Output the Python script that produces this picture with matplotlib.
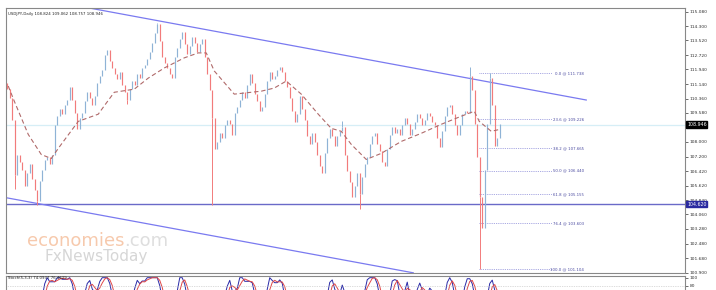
import matplotlib
matplotlib.use("Agg")
import matplotlib.pyplot as plt
import numpy as np
import pandas as pd

# daily closes (one value per candle, left to right)
closes = [
    110.9, 110.4, 109.2, 106.2, 107.3, 106.9, 106.5, 105.6, 106.3, 106.8,
    106.0, 105.4, 104.8, 105.9, 106.5, 107.0, 107.2, 106.8, 107.3, 108.9,
    109.4, 109.8, 109.5, 110.0, 110.3, 111.0, 110.3, 109.6, 108.7, 109.3,
    109.6, 110.2, 110.7, 110.4, 110.0, 110.5, 111.2, 111.6, 111.9, 112.7,
    113.0, 112.4, 112.0, 111.7, 111.4, 111.8, 111.1, 110.7, 110.3, 110.9,
    111.3, 111.1, 111.7, 111.5, 112.0, 112.2, 112.5, 112.9, 113.4, 113.9,
    114.4, 113.5, 112.6, 112.3, 112.0, 111.7, 111.5, 112.6, 113.1, 113.6,
    114.0, 113.3, 112.8, 113.2, 113.7, 113.4, 112.9, 113.3, 113.6, 112.6,
    111.7, 110.8, 109.3, 107.6, 108.0, 108.5, 108.2, 108.9, 109.2, 109.0,
    108.4, 109.6, 109.9, 110.3, 110.7, 110.4, 111.1, 111.7, 111.2, 110.6,
    110.2, 109.7, 109.9, 110.6, 111.3, 111.8, 111.4, 111.6, 111.9, 112.1,
    111.8, 111.3, 111.0, 110.4, 109.7, 109.1, 109.5, 110.5, 109.8, 109.2,
    108.3, 107.9, 108.5, 108.0, 107.3, 106.7, 106.3, 107.4, 108.2, 108.7,
    108.3, 107.8, 108.3, 108.6, 108.8, 107.3, 106.4, 105.8, 105.0, 105.6,
    106.3, 105.2, 106.1, 106.8, 107.2, 107.9, 108.3, 108.5, 107.9, 107.5,
    106.9, 106.7, 107.6, 108.4, 108.8, 108.5, 108.7, 108.4, 108.9, 109.3,
    109.0, 108.4, 108.7, 109.1, 109.5, 109.3, 108.9, 109.2, 109.6, 109.4,
    109.1, 108.9, 108.2, 107.7, 108.6, 109.4, 109.9, 110.0, 109.5, 108.9,
    108.4, 108.9, 109.5, 109.7, 109.6, 111.6, 110.8, 109.0, 107.2, 105.0,
    103.3, 106.5, 109.0, 111.5, 110.0, 107.8, 108.2, 108.95,
]
first_open = 111.2

# long wicks visible on the chart
wick_lows = {3: 105.46, 12: 104.59, 48: 110.05, 82: 104.59, 141: 104.37, 189: 101.10}
wick_highs = {60: 114.48, 134: 109.12, 185: 112.10, 193: 111.74}

# dashed moving average
ma_idx = [0.4, 2.8, 8.4, 13.6, 17.6, 20.4, 28.4, 36.4, 39.0, 42.8, 50.8, 56.4,
          62.8, 70.8, 76.4, 79.6, 82.8, 90.8, 101.6, 106.8, 111.6, 117.6,
          124.4, 129.6, 133.6, 137.6, 143.6, 149.6, 157.6, 165.6, 173.6,
          181.6, 186.8, 188.8, 193.6, 197.2]
ma_val = [111.04, 110.22, 108.41, 107.32, 107.10, 107.65, 109.12, 109.51,
          110.0, 110.70, 110.87, 111.47, 112.02, 112.57, 112.84, 112.84,
          111.86, 110.60, 110.76, 110.93, 111.31, 110.60, 109.51, 108.74,
          108.58, 107.87, 107.05, 107.38, 108.03, 108.47, 108.96, 109.40,
          109.67, 109.12, 108.58, 108.69]

fib_pct = ["0.0", "23.6", "38.2", "50.0", "61.8", "76.4", "100.0"]
fib_val = [111.738, 109.226, 107.665, 106.440, 105.155, 103.603, 101.104]

upper_trend = ([32.8, 231.6], [115.28, 110.28])
lower_trend = ([0.0, 162.4], [104.96, 100.89])
support_level = 104.62
last_price = 108.946

price_ticks = [115.080, 114.300, 113.520, 112.720, 111.940, 111.140, 110.360,
               109.580, 108.780, 108.000, 107.200, 106.420, 105.620, 104.840,
               104.060, 103.280, 102.480, 101.680, 100.900]

W, H = 716, 290
fig = plt.figure(figsize=(W / 100, H / 100), dpi=100)
fig.patch.set_facecolor("white")

ax = fig.add_axes([6 / W, 1 - 273 / H, 679 / W, 265 / H])
sx = fig.add_axes([6 / W, 1 - 300 / H, 679 / W, 24.5 / H])

spine_col = "#888888"
for a in (ax, sx):
    for s in a.spines.values():
        s.set_color(spine_col)
        s.set_linewidth(0.8)

# candles: body from previous close to close
idx = np.arange(len(closes))
opens = [first_open] + closes[:-1]
cols = ["#8fb3d6" if c >= o else "#f27b7b" for o, c in zip(opens, closes)]
lo = np.minimum(opens, closes)
hi = np.maximum(opens, closes)
ax.vlines(idx, lo, hi, colors=cols, lw=0.85, zorder=3)
for i, v in wick_lows.items():
    ax.vlines(i, v, lo[i], colors=cols[i], lw=0.7, zorder=3)
for i, v in wick_highs.items():
    ax.vlines(i, hi[i], v, colors=cols[i], lw=0.7, zorder=3)

ax.plot(ma_idx, ma_val, color="#b06a6a", lw=0.8, ls=(0, (4, 2.5)), zorder=4)

# levels and trend lines
ax.axhline(last_price, color="#d6eef6", lw=0.9, zorder=1)
ax.axhline(support_level, color="#6a6ac8", lw=1.0, zorder=2)
ax.plot(*upper_trend, color="#7a7af0", lw=0.9, zorder=2)
ax.plot(*lower_trend, color="#7a7af0", lw=0.9, zorder=2)

for p, v in zip(fib_pct, fib_val):
    ax.plot([188.8, 218.0], [v, v], color="#8a8ad8", lw=0.6, ls=(0, (1, 1.2)), zorder=2)
    ax.text(230.8, v, f"{p} @ {v:.3f}", ha="right", va="center",
            fontsize=2.8, color="#4a4aa0", zorder=5)

ax.set_xlim(-0.5, 271.1)
ax.set_ylim(100.88, 115.28)
ax.set_xticks([])
ax.yaxis.tick_right()
ax.set_yticks(price_ticks)
ax.set_yticklabels([f"{t:.3f}" for t in price_ticks])
ax.tick_params(axis="y", labelsize=3.2, length=2, width=0.5, pad=1.5,
               colors="#333333")

ax.text(0.003, 0.985, "USDJPY,Daily 108.824 109.062 108.757 108.946",
        transform=ax.transAxes, ha="left", va="top", fontsize=2.8, color="#222222")

# price boxes on the axis
ax.annotate(f"{last_price:.3f}", xy=(1.0, last_price), xycoords=("axes fraction", "data"),
            xytext=(1.5, 0), textcoords="offset points", ha="left", va="center",
            fontsize=3.4, color="white", annotation_clip=False,
            bbox=dict(boxstyle="square,pad=0.15", fc="black", ec="black"))
ax.annotate(f"{support_level:.3f}", xy=(1.0, support_level), xycoords=("axes fraction", "data"),
            xytext=(1.5, 0), textcoords="offset points", ha="left", va="center",
            fontsize=3.4, color="white", annotation_clip=False,
            bbox=dict(boxstyle="square,pad=0.15", fc="#2a2aa0", ec="#2a2aa0"))

# watermark
t1 = fig.text(27 / W, 1 - 246 / H, "economies", fontsize=13, color="#f6c4a4",
              ha="left", va="baseline", alpha=0.9)
ax.annotate(".com", xy=(1, 0), xycoords=t1, ha="left", va="bottom",
            fontsize=13, color="#dedede")
fig.text(45 / W, 1 - 261 / H, "FxNewsToday", fontsize=11, color="#d6d6d6",
         ha="left", va="baseline")

# stochastic panel
c = np.array(closes)
k_raw = []
for i in range(len(c)):
    w = c[max(0, i - 4):i + 1]
    rng = w.max() - w.min()
    k_raw.append(100 * (c[i] - w.min()) / rng if rng > 0 else 50.0)
k = pd.Series(k_raw).rolling(3, min_periods=1).mean()
d = k.rolling(3, min_periods=1).mean()
sx.plot(idx, k, color="#2a2aa8", lw=0.7)
sx.plot(idx, d, color="#e04848", lw=0.7)
sx.axhline(80, color="#bbbbbb", lw=0.5, ls=(0, (1, 1.5)))
sx.set_xlim(-0.5, 271.1)
sx.set_ylim(44, 105.5)
sx.set_xticks([])
sx.yaxis.tick_right()
sx.set_yticks([100, 80])
sx.tick_params(axis="y", labelsize=3.2, length=2, width=0.5, pad=1.5, colors="#333333")
sx.text(0.003, 0.97, "Stoch(5,3,3) 74.0937 76.4629", transform=sx.transAxes,
        ha="left", va="top", fontsize=2.8, color="#222222")

fig.savefig("out.png", dpi=100)
